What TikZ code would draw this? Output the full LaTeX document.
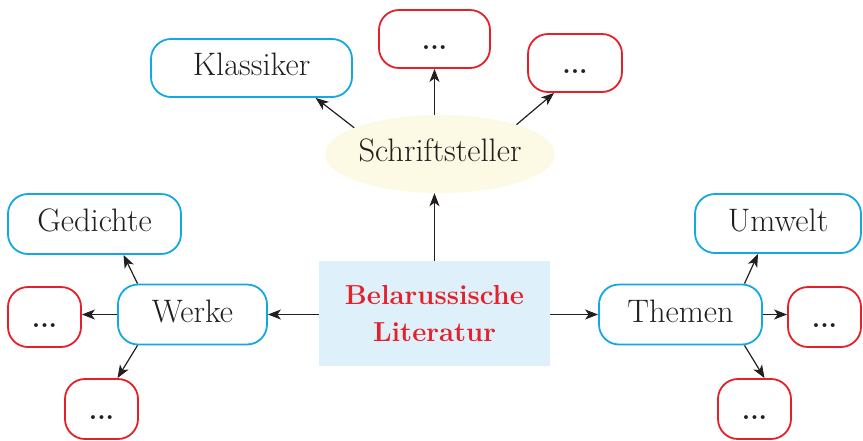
\documentclass[tikz,border=0pt]{standalone}
\usetikzlibrary{shapes.geometric,arrows.meta,calc}
\definecolor{bbl}{RGB}{18,168,226}
\definecolor{rrd}{RGB}{230,32,42}
\definecolor{cfill}{RGB}{222,241,250}
\definecolor{efill}{RGB}{252,249,228}
\definecolor{ink}{RGB}{35,31,32}
\tikzset{
  lbl/.style={font=\fontsize{32.5}{36}\selectfont, text=ink, text height=22pt, text depth=7pt, inner sep=0pt},
  bluebox/.style={lbl, draw=bbl, line width=1.8pt, rounded corners=20pt, rectangle},
  redbox/.style={draw=rrd, line width=1.8pt, rounded corners=20pt, rectangle, inner sep=0pt,
     font=\fontsize{27}{30}\selectfont\bfseries, text=ink, text height=24pt, text depth=4pt,
     minimum width=73pt, minimum height=60pt},
  conn/.style={draw=ink, line width=1.2pt, -{Stealth[length=13pt,width=10pt,inset=3.5pt]}}
}
\begin{document}
\begin{tikzpicture}[x=1pt,y=-1pt]
\useasboundingbox (0,0) rectangle (863,440);
% center
\node[rectangle, fill=cfill, minimum width=231pt, minimum height=105pt, inner sep=0pt,
  align=center, text=rrd, font=\fontsize{27.5}{37}\selectfont\bfseries] (c) at (434.5,313.5) {Belarussische\\Literatur};
% Schriftsteller
\node[ellipse, fill=efill, lbl, minimum width=226pt, minimum height=78pt] (s) at (440,154) {Schriftsteller};
\node[bluebox, minimum width=201pt, minimum height=58pt] (k) at (251.5,68) {Klassiker};
\node[redbox, minimum width=111pt, minimum height=58pt] (t) at (434.5,39) {...};
\node[redbox, minimum width=94pt, minimum height=58pt] (r1) at (575,63) {...};
% left
\node[bluebox, minimum width=173pt, minimum height=60pt] (g) at (94.5,224) {Gedichte};
\node[bluebox, minimum width=149pt, minimum height=60pt] (w) at (192.5,314.5) {Werke};
\node[redbox] (l1) at (44.5,317) {...};
\node[redbox] (b1) at (101.5,409) {...};
% right
\node[bluebox, minimum width=166pt, minimum height=59pt] (u) at (778,223.5) {Umwelt};
\node[bluebox, minimum width=163pt, minimum height=60pt] (th) at (680.5,314.5) {Themen};
\node[redbox] (r2) at (824.5,317) {...};
\node[redbox] (b2) at (754.5,409) {...};
% connectors
\draw[conn] (c.north) -- (c.north |- s.south);
\draw[conn] (s.north -| t.south) -- (t.south);
\draw[conn] (s.163) -- (k.-25.5);
\draw[conn] (s.21.5) -- (r1.235);
\draw[conn] (c.west |- w.east) -- (w.east);
\draw[conn] (w.west) -- (w.west -| l1.east);
\draw[conn] ($(w.north)+(-55,0)$) -- ($(g.south)+(29,0)$);
\draw[conn] ($(w.south)+(-55,0)$) -- ($(b1.north)+(16,0)$);
\draw[conn] (c.east |- th.west) -- (th.west);
\draw[conn] (th.east) -- (th.east -| r2.west);
\draw[conn] ($(th.north)+(64,0)$) -- ($(u.south)+(-20,0)$);
\draw[conn] ($(th.south)+(64,0)$) -- ($(b2.north)+(10,0)$);
\end{tikzpicture}
\end{document}
